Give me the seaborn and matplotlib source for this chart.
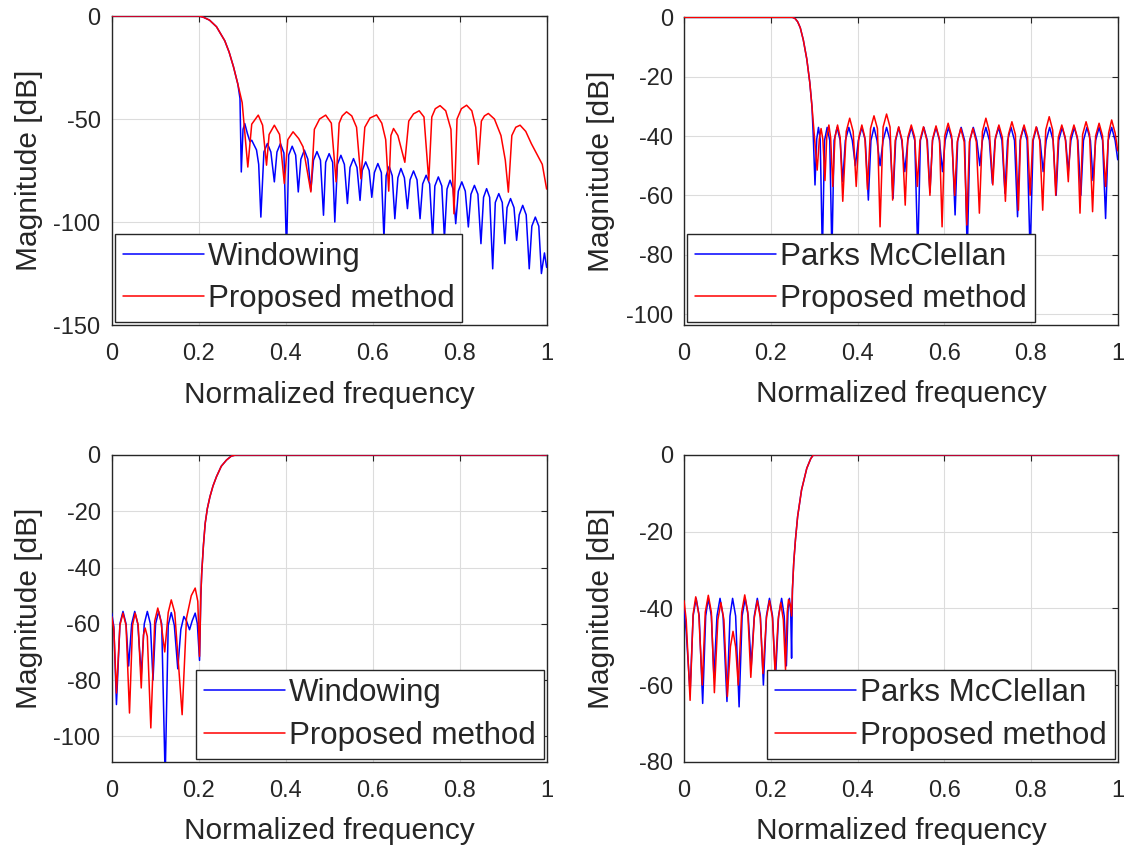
import numpy as np
import pandas as pd
import matplotlib
matplotlib.use("Agg")
import matplotlib.pyplot as plt
import seaborn as sns

# values (freq normalised 0..1, magnitude in dB)

# ---- top-left: lowpass, windowing vs proposed
lp_win_f = [0, 0.2, 0.21, 0.225, 0.241, 0.26, 0.27, 0.28, 0.29, 0.295,
            0.298, 0.302, 0.306, 0.312, 0.318, 0.322, 0.333, 0.338, 0.343,
            0.350, 0.358, 0.366, 0.374, 0.380, 0.388, 0.396, 0.402,
            0.407, 0.415, 0.423, 0.429, 0.435, 0.443, 0.451, 0.458,
            0.464, 0.472, 0.480, 0.487, 0.492, 0.500, 0.508, 0.513,
            0.519, 0.527, 0.535, 0.542, 0.548, 0.556, 0.564, 0.571,
            0.576, 0.584, 0.592, 0.598, 0.604, 0.612, 0.620, 0.626,
            0.631, 0.638, 0.645, 0.651, 0.658, 0.665, 0.673, 0.680,
            0.686, 0.694, 0.702, 0.709, 0.715, 0.723, 0.731, 0.738,
            0.743, 0.751, 0.759, 0.765, 0.771, 0.778, 0.785, 0.791,
            0.797, 0.805, 0.813, 0.820, 0.826, 0.834, 0.842, 0.849,
            0.855, 0.862, 0.869, 0.876, 0.882, 0.890, 0.898, 0.904,
            0.909, 0.917, 0.925, 0.931, 0.937, 0.945, 0.953, 0.960,
            0.966, 0.974, 0.982, 0.988, 0.995, 1.0]
lp_win_db = [0, 0, -0.5, -2, -5.2, -12, -17.5, -24.6, -33, -40,
             -75.7, -55, -52.2, -57, -61, -60.3, -65, -72, -97.6,
             -66, -61.9, -66, -80.5, -66, -61.9, -66.5, -115,
             -67.5, -63.2, -67.5, -85.4, -69.5, -65.1, -69.5, -84.6,
             -70, -65.8, -70, -96.7, -71, -66.8, -71, -100,
             -72, -67.6, -72, -91, -73.5, -69.2, -73.5, -89.5,
             -75, -70.8, -75, -88, -76, -71.6, -76, -108,
             -77.5, -73, -77.5, -98.4, -78.5, -74, -78.5, -93.5,
             -79.5, -75.2, -79.5, -98.4, -81.5, -77.3, -81.5, -108,
             -82.5, -78.1, -82.5, -108, -84, -79.7, -84, -100.8,
             -85, -80.5, -85, -102.4, -86.5, -82.2, -86.5, -110.5,
             -88, -83.8, -88, -122.7, -90.5, -86.2, -90.5, -110.5,
             -93, -88.6, -93, -108.9, -96.5, -91.9, -96.5, -122.7,
             -102, -97.6, -102, -125, -115, -122]
lp_prop_f = [0, 0.2, 0.21, 0.225, 0.241, 0.26, 0.27, 0.28, 0.29, 0.30, 0.313,
             0.322, 0.337, 0.347, 0.356,
             0.362, 0.374, 0.386, 0.397,
             0.405, 0.417, 0.430, 0.440, 0.458,
             0.466, 0.478, 0.492, 0.505, 0.516,
             0.523, 0.530, 0.540, 0.552, 0.563, 0.573,
             0.582, 0.594, 0.609, 0.621, 0.630, 0.637,
             0.642, 0.648, 0.658, 0.674,
             0.683, 0.694, 0.707, 0.718, 0.729,
             0.736, 0.744, 0.755, 0.768, 0.780, 0.787,
             0.794, 0.804, 0.816, 0.828, 0.837, 0.843,
             0.850, 0.857, 0.866, 0.880, 0.895, 0.905, 0.912,
             0.920, 0.929, 0.939, 0.952, 0.965, 0.977, 0.990, 1.0]
lp_prop_db = [0, 0, -0.5, -2, -5.2, -12, -17.5, -24.6, -33, -42, -73.3,
              -52.5, -48.1, -53, -72.4,
              -57.5, -53, -57.5, -81.3,
              -60, -56.2, -59.5, -63.5, -85.4,
              -55, -50, -48.1, -52, -80.5,
              -52, -48.5, -46.5, -48.5, -54, -79,
              -54, -49.5, -48, -52, -60, -85,
              -58, -54.6, -58, -71,
              -51, -47.5, -46, -49, -80,
              -49, -45, -43.5, -46, -55, -96,
              -50, -45, -43.3, -46, -54, -72,
              -51, -48.5, -47.3, -50, -58, -70, -85.5,
              -58, -54, -53, -56, -62, -66.8, -72, -84]

# ---- top-right: lowpass, Parks McClellan vs proposed
lp_pm_f = [0, 0.25, 0.256, 0.262, 0.268, 0.275, 0.283, 0.29, 0.295, 0.298,
           0.302, 0.306, 0.310, 0.314, 0.319, 0.324, 0.330, 0.336, 0.341,
           0.346, 0.353, 0.360, 0.366, 0.372, 0.380, 0.388, 0.395,
           0.402, 0.410, 0.418, 0.425, 0.431, 0.438, 0.445, 0.452,
           0.459, 0.467, 0.475, 0.482, 0.488, 0.495, 0.502, 0.509,
           0.516, 0.524, 0.532, 0.539, 0.545, 0.553, 0.561, 0.567,
           0.573, 0.581, 0.589, 0.596, 0.602, 0.610, 0.618, 0.625,
           0.631, 0.639, 0.647, 0.653, 0.659, 0.667, 0.675, 0.682,
           0.688, 0.696, 0.704, 0.711, 0.717, 0.725, 0.733, 0.740,
           0.746, 0.754, 0.762, 0.769, 0.775, 0.783, 0.791, 0.798,
           0.805, 0.813, 0.821, 0.828, 0.835, 0.843, 0.851, 0.858,
           0.864, 0.872, 0.880, 0.886, 0.892, 0.900, 0.908, 0.915,
           0.921, 0.929, 0.937, 0.943, 0.949, 0.957, 0.965, 0.972,
           0.978, 0.986, 0.994, 1.0]
lp_pm_db = [0, 0, -0.4, -1.5, -3.5, -7.6, -14, -22, -30, -40,
            -56.5, -41, -37.1, -41, -80, -41.5, -37.1, -41.5, -80,
            -41.5, -37.1, -41.5, -55.4, -41.5, -37.1, -41.5, -50,
            -41.5, -37.1, -41.5, -61.6, -41.5, -37.1, -41.5, -50,
            -41.5, -37.1, -41.5, -61, -41.5, -37.1, -41.5, -52,
            -41.5, -37.1, -41.5, -80, -41.5, -37.1, -41.5, -59,
            -41.5, -37.1, -41.5, -52, -41.5, -37.1, -41.5, -66.6,
            -41.5, -37.1, -41.5, -80, -41.5, -37.1, -41.5, -50,
            -41.5, -37.1, -41.5, -56, -41.5, -37.1, -41.5, -59.3,
            -41.5, -37.1, -41.5, -67.2, -41.5, -37.1, -41.5, -80,
            -41.5, -37.1, -41.5, -52, -41.5, -37.1, -41.5, -60,
            -41.5, -37.1, -41.5, -52, -41.5, -37.1, -41.5, -60,
            -41.5, -37.1, -41.5, -55, -41.5, -37.1, -41.5, -67.8,
            -41.5, -37.1, -41.5, -48]
lp_prop2_f = [0, 0.25, 0.256, 0.262, 0.268, 0.275, 0.283, 0.29, 0.295, 0.30,
              0.307, 0.312, 0.316, 0.320, 0.325, 0.329, 0.334, 0.338, 0.343,
              0.348, 0.354, 0.360, 0.366, 0.374, 0.382, 0.390, 0.397,
              0.403, 0.410, 0.417, 0.423, 0.430, 0.438, 0.446, 0.452,
              0.459, 0.467, 0.475, 0.481, 0.487, 0.495, 0.503, 0.510,
              0.516, 0.524, 0.532, 0.538, 0.544, 0.552, 0.560, 0.567,
              0.573, 0.581, 0.589, 0.595, 0.601, 0.609, 0.617, 0.624,
              0.630, 0.638, 0.646, 0.652, 0.658, 0.666, 0.674, 0.681,
              0.688, 0.696, 0.704, 0.712, 0.718, 0.726, 0.734, 0.741,
              0.748, 0.756, 0.764, 0.771, 0.776, 0.784, 0.792, 0.798,
              0.804, 0.812, 0.820, 0.827, 0.834, 0.842, 0.850, 0.857,
              0.863, 0.871, 0.879, 0.886, 0.891, 0.899, 0.907, 0.913,
              0.919, 0.927, 0.935, 0.942, 0.949, 0.957, 0.965, 0.972,
              0.979, 0.986, 0.994, 1.0]
lp_prop2_db = [0, 0, -0.4, -1.5, -3.5, -7.6, -14, -22, -30, -39,
               -51.5, -41, -37.5, -41, -55, -40.5, -36.3, -40.5, -57,
               -40.5, -36.3, -40.5, -62, -38.5, -34, -38.5, -57,
               -40.5, -36.3, -40.5, -58, -37.5, -33.2, -37.5, -70.6,
               -37, -32.6, -37, -61.6, -41.5, -36.9, -41.5, -63.3,
               -40.5, -36.3, -40.5, -57, -41.5, -36.9, -41.5, -60,
               -41, -36.6, -41, -70.6, -40, -35.7, -40, -60,
               -42, -37.4, -42, -70, -42, -37.4, -42, -66,
               -38.5, -34, -38.5, -56.5, -40.5, -36.3, -40.5, -62,
               -39.5, -35.2, -39.5, -65, -40.5, -36.3, -40.5, -60,
               -41.5, -36.9, -41.5, -65, -38, -33.5, -38, -60,
               -40.5, -36.3, -40.5, -55.4, -40.5, -36.3, -40.5, -66,
               -39.5, -35.2, -39.5, -65.5, -40, -35.7, -40, -57,
               -39, -34.6, -39, -45]

# ---- bottom-left: highpass, windowing vs proposed
hp_win_f = [0, 0.005, 0.011, 0.019, 0.026, 0.033, 0.039, 0.046, 0.053, 0.060,
            0.068, 0.075, 0.082, 0.089, 0.095, 0.101, 0.108, 0.115, 0.123,
            0.130, 0.137, 0.144, 0.152, 0.159, 0.166, 0.172, 0.179,
            0.185, 0.192, 0.197, 0.202, 0.205, 0.207, 0.211, 0.215,
            0.22, 0.226, 0.233, 0.241, 0.252, 0.264, 0.275, 0.285, 1.0]
hp_win_db = [-56.2, -61, -88.7, -60, -55.6, -60, -75, -60, -55.6, -60,
             -78, -60, -55.6, -60, -80, -60, -55.6, -60, -115,
             -60.5, -56, -60.5, -76, -62, -57.4, -59, -62.1,
             -59, -56.2, -60, -73, -50, -42, -32, -24.3,
             -19, -14.8, -11, -7.7, -4, -1.8, -0.4, 0, 0]
hp_prop_f = [0, 0.005, 0.011, 0.019, 0.026, 0.033, 0.041, 0.048, 0.054, 0.061,
             0.068, 0.073, 0.077, 0.082, 0.090, 0.099, 0.106, 0.113, 0.122,
             0.130, 0.137, 0.145, 0.162, 0.172, 0.183, 0.192, 0.198, 0.202,
             0.205, 0.207, 0.211, 0.215, 0.22, 0.226, 0.233, 0.241, 0.252,
             0.264, 0.275, 0.285, 1.0]
hp_prop_db = [-57.4, -62, -84.6, -60.5, -56.2, -60.5, -91.7, -60.5, -56.2, -60.5,
              -82.8, -64, -61.5, -64.5, -97, -59, -54.4, -59, -70,
              -56, -51.5, -56, -92.3, -58, -50, -47.3, -52, -71.6,
              -50, -42, -32, -24.3, -19, -14.8, -11, -7.7, -4,
              -1.8, -0.4, 0, 0]

# ---- bottom-right: highpass, Parks McClellan vs proposed
hp_pm_f = [0, 0.005, 0.014, 0.021, 0.028, 0.035, 0.043, 0.050, 0.056, 0.063,
           0.069, 0.076, 0.083, 0.090, 0.099, 0.106, 0.112, 0.119, 0.127,
           0.134, 0.141, 0.148, 0.155, 0.162, 0.169, 0.176, 0.183,
           0.190, 0.197, 0.204, 0.211, 0.218, 0.225, 0.231, 0.236,
           0.240, 0.243, 0.246, 0.248, 0.250, 0.253, 0.257, 0.262, 0.271,
           0.283, 0.292, 0.298, 1.0]
hp_pm_db = [-40, -46, -62, -42, -37.4, -42, -64.8, -42, -37.4, -42,
            -58, -42, -37.4, -42, -64.3, -42, -37.4, -42, -65.7,
            -42, -37.4, -42, -55, -42, -37.4, -42, -60,
            -42, -37.4, -42, -58, -42, -37.4, -42, -55,
            -40, -37.4, -41, -53, -35, -28, -22, -16, -9.1,
            -3.5, -1, 0, 0]
hp_prop2_f = [0, 0.005, 0.014, 0.021, 0.027, 0.034, 0.042, 0.049, 0.056, 0.063,
              0.070, 0.078, 0.085, 0.092, 0.100, 0.107, 0.113, 0.119, 0.125,
              0.133, 0.140, 0.147, 0.154, 0.162, 0.169, 0.176, 0.182,
              0.190, 0.197, 0.204, 0.210, 0.217, 0.223, 0.229, 0.234,
              0.238, 0.241, 0.245, 0.248, 0.250, 0.253, 0.257, 0.262, 0.271,
              0.283, 0.292, 0.298, 1.0]
hp_prop2_db = [-38, -43, -64, -41.5, -37, -41.5, -60, -41, -36.6, -41,
               -62, -43, -38.5, -43, -63, -50, -46, -50, -60,
               -41, -36.5, -41, -58, -42.5, -38, -42.5, -57,
               -42.5, -38, -42.5, -57, -43, -38.5, -43, -56,
               -41, -37.7, -39, -42, -35, -28, -22, -16, -9.1,
               -3.5, -1, 0, 0]

panels = [
    dict(rect=[0.099, 0.6185, 0.3856, 0.3627], ref="Windowing",
         ref_f=lp_win_f, ref_db=lp_win_db, prop_f=lp_prop_f, prop_db=lp_prop_db,
         ylim=(-150, 0), yticks=[0, -50, -100, -150], loc="lower left"),
    dict(rect=[0.6064, 0.6185, 0.3845, 0.3612], ref="Parks McClellan",
         ref_f=lp_pm_f, ref_db=lp_pm_db, prop_f=lp_prop2_f, prop_db=lp_prop2_db,
         ylim=(-103.7, 0), yticks=[0, -20, -40, -60, -80, -100], loc="lower left"),
    dict(rect=[0.099, 0.106, 0.3856, 0.36], ref="Windowing",
         ref_f=hp_win_f, ref_db=hp_win_db, prop_f=hp_prop_f, prop_db=hp_prop_db,
         ylim=(-109, 0), yticks=[0, -20, -40, -60, -80, -100], loc="lower right"),
    dict(rect=[0.6064, 0.106, 0.3845, 0.36], ref="Parks McClellan",
         ref_f=hp_pm_f, ref_db=hp_pm_db, prop_f=hp_prop2_f, prop_db=hp_prop2_db,
         ylim=(-80, 0), yticks=[0, -20, -40, -60, -80], loc="lower right"),
]

sns.set_theme(style="white")
plt.rcParams["font.family"] = ["Liberation Sans", "DejaVu Sans"]
plt.rcParams["axes.unicode_minus"] = False
dark = "#262626"

fig = plt.figure(figsize=(11.28, 8.52), dpi=100)
for p in panels:
    ax = fig.add_axes(p["rect"])
    sns.lineplot(x=p["ref_f"], y=p["ref_db"], ax=ax, color=(0, 0, 1), lw=1.1,
                 sort=False, estimator=None, label=p["ref"], zorder=3)
    sns.lineplot(x=p["prop_f"], y=p["prop_db"], ax=ax, color=(1, 0, 0), lw=1.1,
                 sort=False, estimator=None, label="Proposed method", zorder=3)
    ax.set_xlim(0, 1)
    ax.set_ylim(*p["ylim"])
    ax.set_xticks([0, 0.2, 0.4, 0.6, 0.8, 1])
    ax.set_xticklabels(["0", "0.2", "0.4", "0.6", "0.8", "1"])
    ax.set_yticks(p["yticks"])
    ax.grid(True, color="#dcdcdc", lw=0.8)
    ax.tick_params(direction="in", length=4, width=0.8, colors=dark,
                   labelsize=17, top=True, right=True)
    ax.tick_params(axis="x", pad=13)
    ax.tick_params(axis="y", pad=8)
    for s in ax.spines.values():
        s.set_color(dark)
        s.set_linewidth(1.0)
    ax.set_xlabel("Normalized frequency", fontsize=21.5, color=dark)
    ax.set_ylabel("Magnitude [dB]", fontsize=21.5, color=dark)
    ax.xaxis.set_label_coords(0.5, -0.18)
    ax.yaxis.set_label_coords(-0.158, 0.5)
    leg = ax.legend(loc=p["loc"], fontsize=22.5, frameon=True, fancybox=False,
                    framealpha=1, edgecolor=dark, borderaxespad=0.1,
                    handlelength=2.6, handletextpad=0.12, labelspacing=0.4,
                    borderpad=0.25)
    leg.get_frame().set_linewidth(1.0)
    leg.set_zorder(5)

fig.savefig("out.png", dpi=100)
